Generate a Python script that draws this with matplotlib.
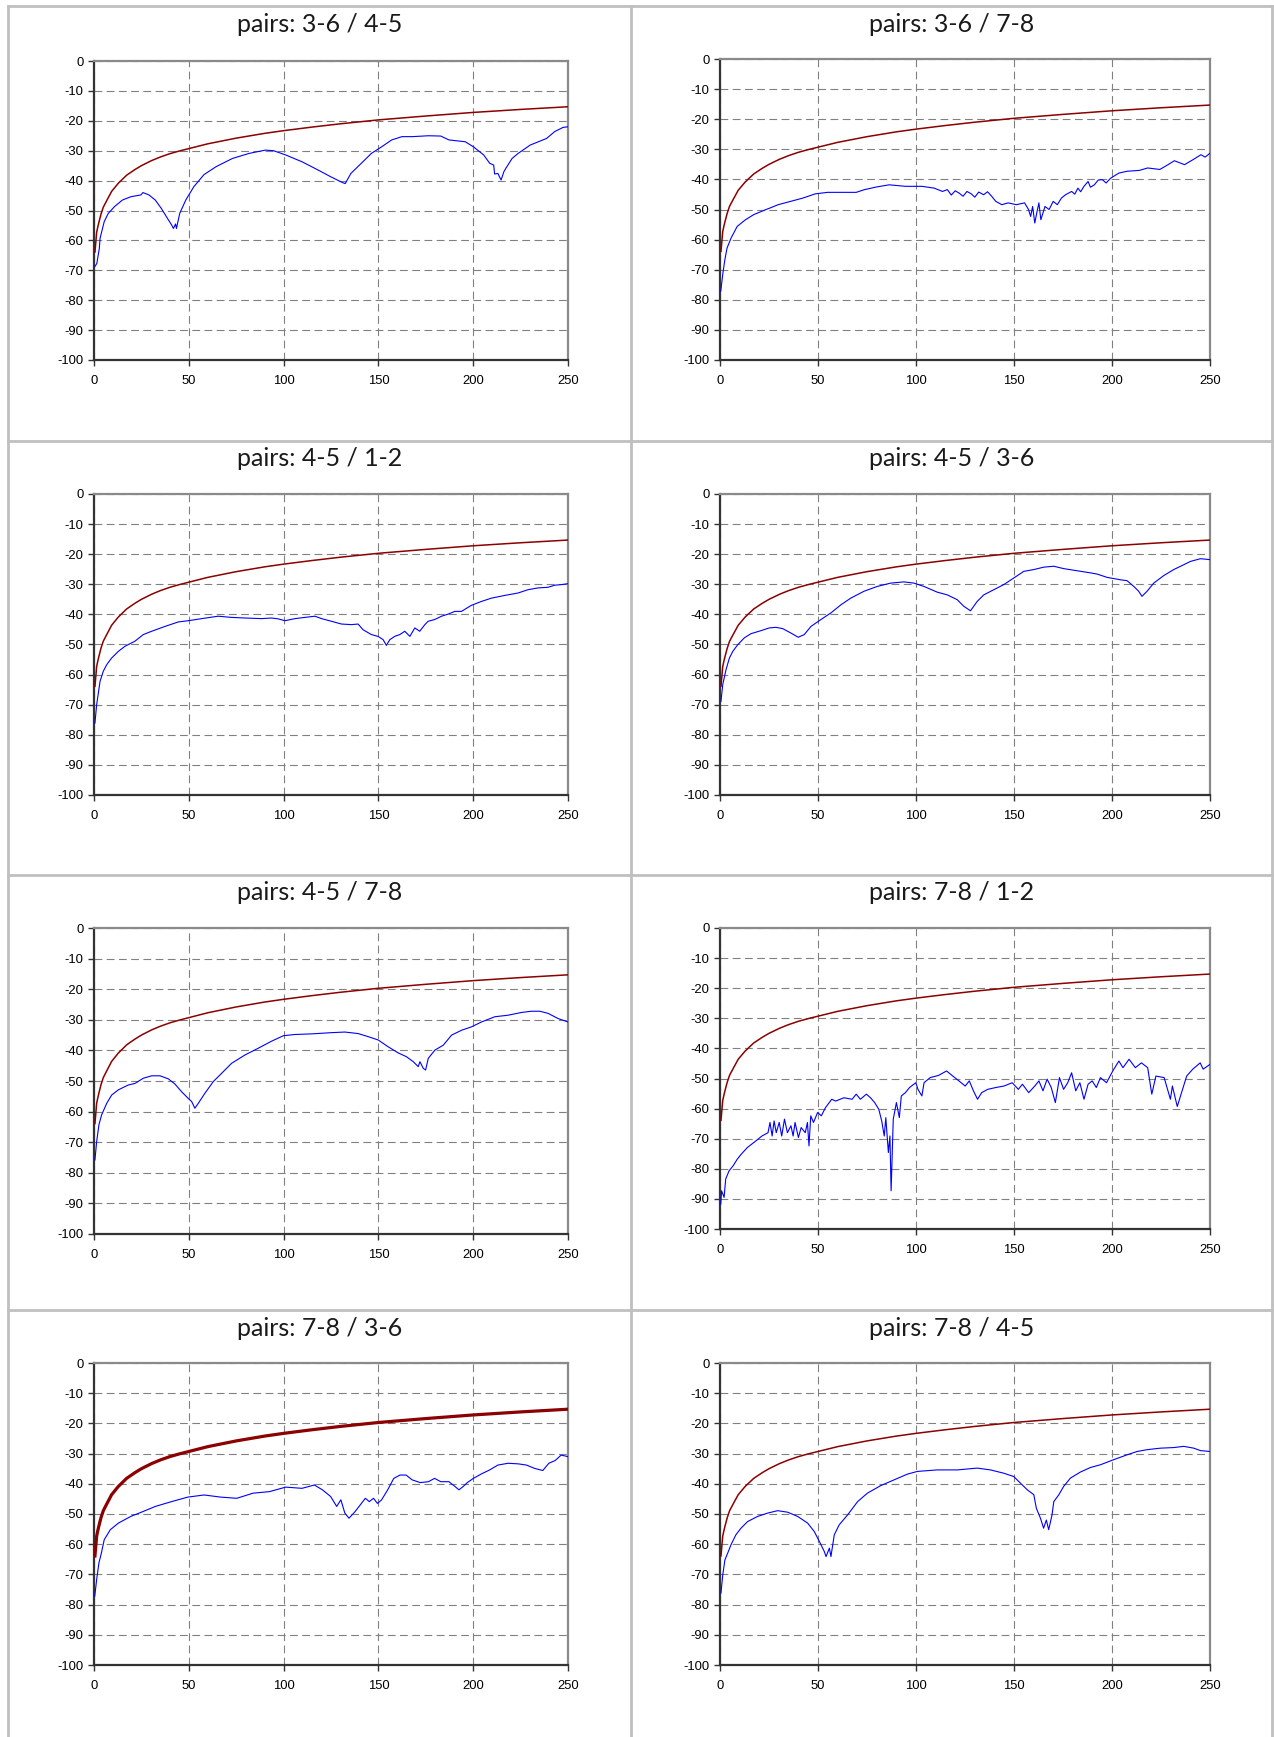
import matplotlib
matplotlib.use("Agg")
import matplotlib.pyplot as plt
from matplotlib.lines import Line2D

# ---------------- data ----------------
titles = ["pairs: 3-6 / 4-5", "pairs: 3-6 / 7-8",
          "pairs: 4-5 / 1-2", "pairs: 4-5 / 3-6",
          "pairs: 4-5 / 7-8", "pairs: 7-8 / 1-2",
          "pairs: 7-8 / 3-6", "pairs: 7-8 / 4-5"]

x_ticks = [0, 50, 100, 150, 200, 250]
y_ticks = [0, -10, -20, -30, -40, -50, -60, -70, -80, -90, -100]

# limit curve (dark red), same in every panel
limit_x = [0.5, 1.4, 2.0, 2.6, 3.7, 4.9, 6.7, 9.3, 12.8, 17.2, 21.6, 25, 30.4, 35, 40, 45, 50,
           60, 75, 90, 100, 115, 130, 150, 175, 200, 225, 250]
limit_y = [-63.9, -57.3, -55.5, -53.9, -51.2, -48.9, -46.7, -43.6, -40.9, -38.2, -36.3, -35.0,
           -33.3, -32.1, -31.0, -30.1, -29.3, -27.7, -25.8, -24.2, -23.3, -22.1, -21.0, -19.7,
           -18.4, -17.2, -16.2, -15.3]

p1_x = [0.4,1.5,2.8,3.2,4.3,5.4,7.5,10.8,15,19.4, 24.7,25.8,29,32.3,35.5,38.7,40.9,41.9,43,43.5,
        45.2,48.4,52.7,58,64.5,73,81.8,90.4,94.7,101, 109.7,118.3,124.8,131.2,132.5,135.5,141,146.3,151.7,157,
        162.4,167.8,176.4,182.9,187.2,195.8,200.1,205.5,208.7,210.8, 211.3,213,214.7,216.2,217.2,220.5,223.7,230.1,234.4,238.7,
        243,247.4,250]
p1_y = [-68.8,-67.7,-62.7,-59.3,-56.5,-53.7,-51,-48.7,-46.5,-45.4, -44.8,-44,-44.8,-46.5,-49.3,-52.6,-54.8,-56,-54.5,-56,
        -51,-46.5,-42,-38,-35.3,-32.6,-30.9,-29.8,-30,-31.4, -33.7,-36.5,-38.7,-40.7,-41,-37.6,-34.2,-30.9,-28.7,-26.4,
        -25.3,-25.3,-25,-25.1,-26.4,-27,-28.7,-31.4,-34.2,-34.8, -37.8,-37.6,-39.8,-37,-35.9,-32.6,-30.9,-28.1,-27,-25.9,
        -23.6,-22.2,-22]

p2_x = [0.4,1.5,2.5,3.6,5.7,8.8,13,17.2,23.5,25.5, 29.7,36,42.3,48.6,54.9,63.2,69.5,73.7,80,86.3,
        94.6,103,109.3,113.5,116,118,120,121.9,124,126,128.2,130,132,134.5,136.5,138.6,140.7,143.8,
        147,151.2,155.4,157.4,158.5,159.5,160.6,161.6,162.7,163.7,
        165.8,167.9,170,172.1,174.2,176.3,179.4,181,182.6,184,185.7,187.8,189,191,193,195.1,197,199.3,
        203.5,207.7,214,218.2,224.4,228.6,231.8, 237,241.2,245.4,247.5,250]
p2_y = [-77.1,-71,-66.6,-62.8,-59.4,-55.6,-53.4,-51.7,-50,-49.5, -48.4,-47.3,-46.2,-44.8,-44.3,-44.3,-44.3,-43.4,-42.5,-41.8,
        -42.3,-42.3,-42.9,-44,-43.4,-45.2,-43.8,-44.5,-45.6,-44,-44.8,-45.9,-44.2,-45.1,-44.1,-45.6,-47.3,-48.4,
        -47.8,-48.4,-47.8,-50,-52.3,-49,-54.5,-51.2,-47.8,-53.4,
        -49,-50,-47.3,-48.4,-46.2,-45.1,-44,-44.9,-42.9,-44.1,-42.3,-40.7,-42.6,-41.8,-40.2,-40.1,-41.2,-39.6,
        -37.9,-37.3,-37,-36.2,-36.7,-35.1,-33.8, -35.1,-33.5,-31.8,-32.6,-31.3]

p3_x = [0.5,1.4,2.3,3.2,4.9,6.7,9.3,12.8,16.3,21.6, 26,30.4,37.4,44.5,49.7,56.8,65.5,72.6,79.6,88.4,
        93.7,97.2,100.7,106,111.2,116.5,120,125.3,130.5,135.8, 139.3,141.9,146.3,149.8,152.5,154.2,156,158.6,161.3,163.9,
        166.6,169.2,171.8,174.5,176.2,179.7,183.3,186.8,190.3,193.8, 199,204.3,209.6,216.6,223.6,228.9,234.2,239.4,243,246.5,
        250]
p3_y = [-76.1,-70,-66.1,-62.2,-58.9,-56.7,-54.5,-52.3,-50.6,-48.9, -46.7,-45.6,-44,-42.5,-42.1,-41.4,-40.6,-41,-41.2,-41.4,
        -41.2,-41.5,-42.1,-41.4,-41,-40.6,-41.4,-42.3,-43.2,-43.4, -43.2,-45.1,-46.7,-47.3,-48.4,-50.3,-48.4,-47.3,-46.7,-45.6,
        -47.3,-44.5,-45.6,-43.4,-42.3,-41.7,-40.6,-39.9,-39,-39, -37,-35.7,-34.6,-33.7,-32.9,-31.8,-31.2,-31,-30.3,-30.1,
        -29.8]

p4_x = [0.5,1.4,3.1,4.8,6.5,9,12.4,15.8,20.9,25.1, 28.5,31.9,36.2,39.9,43,46.4,51.5,56.6,61.7,66.7,
        73.5,80.3,87.1,93.8,98.9,104,110.8,115.9,121,124.4, 127.8,131.2,134.6,139.7,144.8,149.9,155,160.1,165.2,170.3,
        175.4,182.2,189,192.4,197.5,204.3,207.7,211.1,213.6,215.3, 217.9,221.3,226.4,231.5,236.6,240,245.1,250]
p4_y = [-68.9,-63.3,-58.3,-54.5,-52.3,-50.1,-47.8,-46.4,-45.4,-44.5, -44.3,-44.7,-46.2,-47.6,-46.7,-44,-41.7,-39.5,-36.8,-34.6,
        -32.3,-30.7,-29.6,-29.2,-29.6,-30.7,-32.6,-33.5,-35.1,-37.3, -38.8,-35.7,-33.5,-31.8,-30.1,-27.9,-25.7,-25.1,-24.3,-24,
        -24.8,-25.5,-26.2,-26.6,-27.7,-28.5,-28.8,-30.7,-32.3,-34, -32.3,-29.6,-27.1,-25.1,-23.5,-22.4,-21.5,-21.8]

p5_x = [0.5,1.4,2.6,4,6.7,9.3,12.8,18.1,21.6,26, 30.4,34.8,39.2,42.7,46.2,49.7,51.5,53.2,55,58.5,
        62.9,67.3,72.6,79.6,86.6,93.6,99.9,106,114.8,125.3, 132.3,139.3,144.6,149.9,155.1,160.4,164.9,168.4,171,171.9,
        173.7,174.9,176.3,179.8,184.2,188.6,193.9,199.1,204.4,211.4, 218.4,225.5,230.7,235.1,239.5,244.8,250]
p5_y = [-75.8,-69.8,-64.3,-61.1,-57.3,-54.6,-52.9,-51.3,-50.8,-49.1, -48.3,-48.3,-49.3,-51,-53.5,-55.7,-56.7,-58.9,-57.3,-54,
        -50.2,-47.5,-44.2,-41.5,-39.3,-37,-35.2,-34.8,-34.6,-34.2, -34,-34.5,-35.5,-36.6,-38.8,-40.8,-42.1,-43.7,-45.3,-43.7,
        -45.9,-46.4,-42.6,-39.9,-38.3,-35,-33.4,-32.3,-30.7,-29, -28.5,-27.6,-27.2,-27.2,-27.9,-29.6,-30.7]

p6_x = [0.4,0.8,2.1,2.9,4.6,6.7,8.8,10.9,14,17.2, 21.4,24.5,25.5,26.6,27.6,28.7,30.2,31.5,32.9,34.4,
        36.2,37.3,38.3,40,41.4,43.5,44.6,45.4,46.3,47.7, 49.8,51.7,53.8,57,59,63.2,67.4,69.5,71.6,74.7,
        76.8,78.9,81,82.5,83.8,84.6,85.9,86.7,87.3,88.4, 90,91.5,92.5,94.6,96.7,99.9,101,103,104.1,107.2,
        111.4,115.6,118.8,121.9,125.1,127.2,129.3,131.4,133.5,136.6, 140.7,144.9,149.1,152.2,154.3,157.5,160.6,162.7,164.8,166.9,
        169,171.1,173.2,175.3,177.4,179.4,181.5,183.6,185.7,187.8, 189.9,192,194.1,197.2,200.4,203.5,205.6,208.7,211.9,215,
        218.2,220.3,222.4,226.6,229.8,230.8,233.3,236,238.1,241.2, 245,246.5,250]
p6_y = [-91.7,-87.3,-89.5,-83.4,-80.7,-79,-76.8,-75.1,-72.9,-71.3, -69.1,-68,-64.6,-69.1,-64.1,-68,-64.6,-69.1,-63.5,-68,
        -65.7,-69.1,-64.6,-69.6,-66.3,-68,-64.6,-72.4,-62.4,-64.6, -61.3,-62.4,-59.7,-56.9,-57.5,-56.4,-56.9,-55.2,-56.9,-55.2,
        -56.4,-58,-60.2,-64.1,-69.1,-63,-74.6,-69.1,-87.3,-63.5, -58,-63,-55.8,-54.7,-53,-51.4,-53.6,-55.8,-51.4,-49.7,
        -49,-47.5,-49.2,-50.8,-52.5,-50.8,-54.1,-56.9,-54.7,-53.6, -53,-52.5,-51.4,-53.6,-51.9,-54.7,-52.5,-50.8,-54.1,-50.2,
        -53,-58,-49.7,-53.6,-51.4,-48.1,-54.1,-51.4,-56.9,-51.9, -50.8,-53,-49.7,-51.4,-47.5,-44.2,-46.4,-43.6,-46.4,-44.8,
        -46.4,-55.2,-49.2,-49.7,-56.9,-52.5,-59.3,-53.6,-49.2,-46.9, -44.8,-46.9,-45.3]

p7_x = [0.4,1.5,2.6,3.9,5.4,8.6,12.9,19.4,25.8,32.3, 40.9,49.5,58.1,66.7,75.3,83.9,92.5,101.1,109.7,116.2,
        120.5,124.8,128,130.2,132.3,134.5,137.7,139.8,143.1,145.2, 147.4,149.5,151.7,154.9,158.1,161.4,164.6,167.8,172.1,176.4,
        179.6,182.9,187.2,190.4,192.5,194.7,196.9,200.1,204.4,208.7, 213,218.4,223.8,228.1,232.4,236.7,239.9,243.2,246.4,250]
p7_y = [-77.2,-71.2,-66.2,-62.9,-58.5,-55.2,-53,-50.8,-49.2,-47.5, -45.9,-44.4,-43.7,-44.4,-44.8,-43.1,-42.6,-41.1,-41.5,-40.4,
        -42,-44.2,-47.5,-45.3,-49.7,-51.4,-49.2,-47.5,-44.8,-45.9, -44.8,-46.5,-45.3,-42,-38.2,-37.1,-37.1,-38.7,-39.6,-39.3,
        -38.2,-39.3,-39.3,-40.9,-42,-40.9,-39.6,-38.2,-36.7,-35.4, -33.8,-33.2,-33.4,-33.8,-34.9,-35.6,-33.2,-32.3,-30.5,-31]

p8_x = [0.5,1.4,2.5,3.9,5.6,8.1,10.7,14.1,19.2,24.3, 29.4,34.5,39.6,44.7,48.1,50.7,53.2,54.1,55.8,56.6,
        58.3,60.8,65.1,70.2,75.2,82,88.8,95.6,100.7,110.8, 121.1,131.2,138,144.8,149.9,153.3,156.8,160.1,161.4,163.5,
        165.1,166.5,167.7,169.4,170.3,172.9,175.4,178.8,183.9,189, 194.1,200.9,207.7,212.8,217.9,224.7,231.5,236.6,241.7,245.1,
        250]
p8_y = [-76.2,-70.2,-65.2,-63,-60.2,-56.9,-54.7,-52.5,-50.8,-49.7, -48.9,-49.4,-50.8,-53,-55.8,-59.1,-62.4,-64.1,-61.3,-64.1,
        -56.9,-53.6,-50.3,-45.9,-43.1,-40.6,-38.7,-36.8,-35.9,-35.4, -35.4,-34.8,-35.4,-36.5,-37.6,-39.8,-42,-43.6,-48.1,-51.4,
        -54.7,-52,-55.2,-50.3,-45.9,-43.6,-40.8,-38.1,-36.1,-34.6, -33.7,-32,-30.4,-29.3,-28.7,-28.2,-28,-27.6,-28.2,-29,
        -29.3]

series_x = [p1_x, p2_x, p3_x, p4_x, p5_x, p6_x, p7_x, p8_x]
series_y = [p1_y, p2_y, p3_y, p4_y, p5_y, p6_y, p7_y, p8_y]

# ---------------- layout (pixels) ----------------
W, H = 1274, 1737
axes_px = [(94, 61, 568, 360), (720, 59, 1210, 360),
           (94, 494, 568, 795), (720, 494, 1210, 795),
           (94, 928, 568, 1234), (720, 928, 1210, 1229),
           (94, 1363, 568, 1665), (720, 1363, 1210, 1665)]
row_tops = [6, 441, 875, 1310]
col_x = [8, 631, 1272]
title_cx = [319.5, 951.5]
limit_lw = [1.1, 1.1, 1.1, 1.1, 1.1, 1.1, 2.3, 1.1]

fig = plt.figure(figsize=(W / 100, H / 100), dpi=100)
fig.patch.set_facecolor("white")

BORDER = "#c0c0c0"
for x in col_x:
    fig.add_artist(Line2D([x / W, x / W], [1 - 6 / H, 0], color=BORDER, lw=2.0))
for y in row_tops:
    fig.add_artist(Line2D([8 / W, 1272 / W], [1 - y / H, 1 - y / H], color=BORDER, lw=2.0))

tick_font = dict(family=["Liberation Sans", "DejaVu Sans"], size=9.4)

for i in range(8):
    x0, y0, x1, y1 = axes_px[i]
    ax = fig.add_axes([x0 / W, 1 - y1 / H, (x1 - x0) / W, (y1 - y0) / H])
    ax.set_xlim(0, 250)
    ax.set_ylim(-100, 0)
    ax.set_xticks(x_ticks)
    ax.set_yticks(y_ticks)
    ax.set_xticklabels([str(t) for t in x_ticks], fontdict=tick_font)
    ax.set_yticklabels([str(t) for t in y_ticks], fontdict=tick_font)
    ax.grid(True, color="#808080", lw=0.8, linestyle=(0, (7, 4)))
    ax.set_axisbelow(True)
    ax.tick_params(axis="both", direction="out", length=4, width=1.0, color="#333333")
    ax.tick_params(axis="y", pad=3.5)
    ax.tick_params(axis="x", pad=6.5)
    for s in ("left", "bottom"):
        ax.spines[s].set_color("#333333")
        ax.spines[s].set_linewidth(1.6)
    for s in ("top", "right"):
        ax.spines[s].set_color("#8a8a8a")
        ax.spines[s].set_linewidth(1.6)
    ax.plot(limit_x, limit_y, color="#8b0000", lw=limit_lw[i], zorder=3)
    ax.plot(series_x[i], series_y[i], color="#0000ff", lw=0.8, zorder=4)

    row, col = divmod(i, 2)
    ty = row_tops[row] + 18
    fig.text(title_cx[col] / W, 1 - ty / H, titles[i], ha="center", va="center",
             fontsize=18, fontweight="normal", family=["Lato", "DejaVu Sans"], color="#1a1a1a")

fig.savefig("out.png", dpi=100)
